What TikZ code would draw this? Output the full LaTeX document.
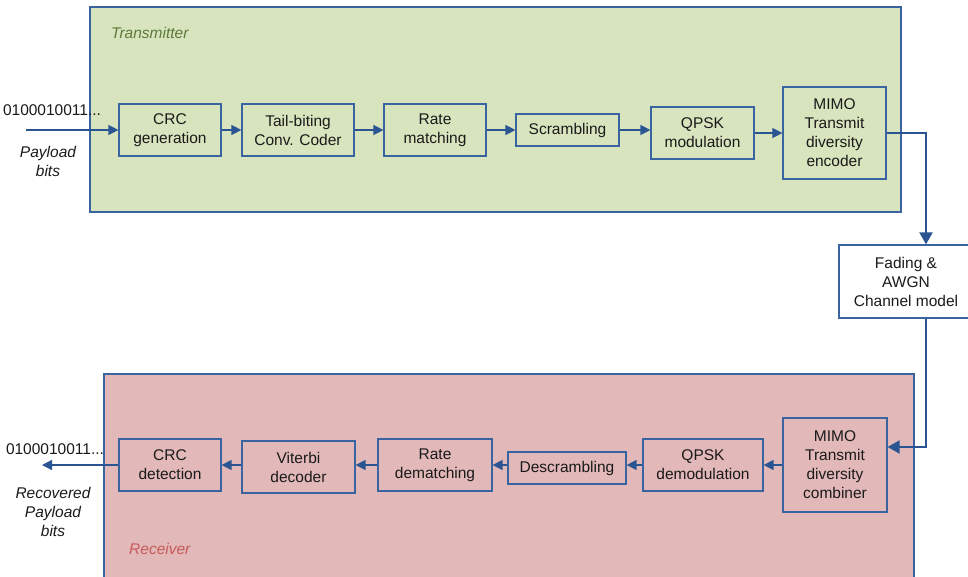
\documentclass[tikz,border=0pt]{standalone}
\usepackage{fontspec}
\setmainfont{Liberation Sans}
\usetikzlibrary{arrows.meta,calc}
\definecolor{linec}{HTML}{2B5592}
\definecolor{boxc}{HTML}{3A64A0}
\definecolor{txfill}{HTML}{D7E4BD}
\definecolor{rxfill}{HTML}{E2B8B8}
\definecolor{txlab}{HTML}{5E7A3A}
\definecolor{rxlab}{HTML}{C85A5A}
\definecolor{txtc}{HTML}{1A1A1A}
\tikzset{
  blk/.style={draw=boxc, line width=1.2pt, inner sep=0pt, align=center, text=txtc,
    font=\fontsize{15.5}{19}\selectfont},
  arr/.style={draw=linec, line width=1.3pt, -{Triangle[length=10pt,width=10pt]}},
  chanarr/.style={draw=linec, line width=2pt, -{Triangle[length=12pt,width=13pt]}},
  lab/.style={inner sep=0pt, align=center, text=txtc, font=\fontsize{15.5}{19}\selectfont},
}
\begin{document}
\begin{tikzpicture}[x=1pt,y=-1pt]
\useasboundingbox (0,0) rectangle (968,576);
% containers
\path[fill=txfill, draw=boxc, line width=1.2pt] (90,7) rectangle (901,212);
\path[fill=rxfill, draw=boxc, line width=1.2pt] (104,374) rectangle (914,580);
\node[anchor=west, inner sep=0pt, text=txlab, font=\fontsize{15.5}{19}\selectfont\itshape] (txl) at (111,33) {Transmitter};
\node[anchor=west, inner sep=0pt, text=rxlab, font=\fontsize{15.5}{19}\selectfont\itshape] (rxl) at (129,549) {Receiver};
% transmitter blocks
\node[blk, minimum width=102pt, minimum height=52pt] (crc) at (170,130) {CRC\\generation};
\node[blk, minimum width=112pt, minimum height=52pt] (tail) at (298,130) {Tail-biting\\Conv. Coder};
\node[blk, minimum width=102pt, minimum height=52pt] (rate) at (435,130) {Rate\\matching};
\node[blk, minimum width=103pt, minimum height=32pt] (scr) at (567.5,130) {Scrambling};
\node[blk, minimum width=103pt, minimum height=52pt] (qpsk) at (702.5,133) {QPSK\\modulation};
\node[blk, minimum width=103pt, minimum height=92pt] (mimo) at (834.5,133) {MIMO\\Transmit\\diversity\\encoder};
% channel
\node[blk, fill=white, minimum width=134pt, minimum height=73pt] (chan) at (906,281.5) {Fading \&\\AWGN\\Channel model};
% receiver blocks
\node[blk, minimum width=102pt, minimum height=52pt] (crcd) at (170,465) {CRC\\detection};
\node[blk, minimum width=113pt, minimum height=52pt] (vit) at (298.5,467) {Viterbi\\decoder};
\node[blk, minimum width=114pt, minimum height=52pt] (rdm) at (435,465) {Rate\\dematching};
\node[blk, minimum width=118pt, minimum height=32pt] (dsc) at (567,468) {Descrambling};
\node[blk, minimum width=120pt, minimum height=52pt] (qpskd) at (703,465) {QPSK\\demodulation};
\node[blk, minimum width=104pt, minimum height=94pt] (mimor) at (835,465) {MIMO\\Transmit\\diversity\\combiner};
% side labels
\node[lab] (inbits) at (52,110) {0100010011...};
\node[lab, font=\fontsize{15.5}{19}\selectfont\itshape] (inlab) at (48,161.5) {Payload\\bits};
\node[lab] (outbits) at (55,449) {0100010011...};
\node[lab, font=\fontsize{15.5}{19}\selectfont\itshape] (outlab) at (53,512) {Recovered\\Payload\\bits};
% coordinates
\coordinate (in) at (26,130);
\coordinate (out) at (42,465);
\coordinate (c1) at (926,133);
\coordinate (c2) at (926,447);
% transmitter arrows
\draw[arr] (in) -- (crc.west);
\draw[arr] (crc.east) -- (tail.west);
\draw[arr] (tail.east) -- (rate.west);
\draw[arr] (rate.east) -- (scr.west);
\draw[arr] (scr.east) -- (scr.east -| qpsk.west);
\draw[arr] (qpsk.east) -- (mimo.west);
% channel
\draw[chanarr] (mimo.east |- c1) -- (c1) -- (c1 |- chan.north);
\draw[chanarr] (c1 |- chan.south) -- (c2) -- (c2 -| mimor.east);
% receiver arrows
\draw[arr] (mimor.west) -- (qpskd.east);
\draw[arr] (qpskd.west) -- (qpskd.west -| dsc.east);
\draw[arr] (dsc.west |- rdm.east) -- (rdm.east);
\draw[arr] (rdm.west) -- (rdm.west -| vit.east);
\draw[arr] (crcd.east -| vit.west) -- (crcd.east);
\draw[arr] (crcd.west) -- (out);
\end{tikzpicture}
\end{document}
